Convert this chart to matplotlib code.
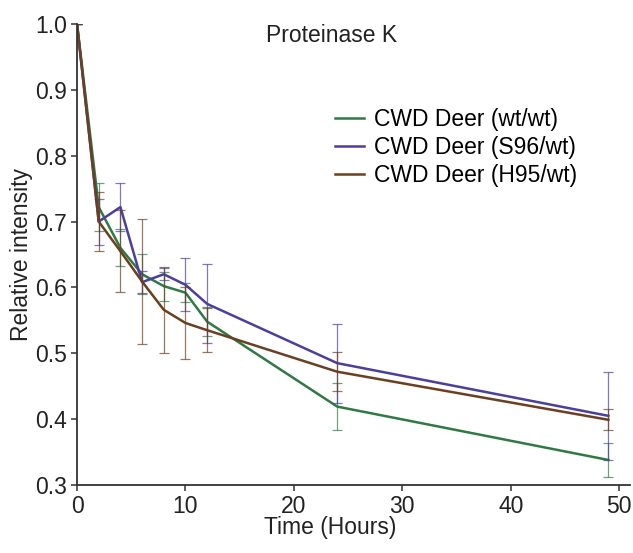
import matplotlib
matplotlib.use("Agg")
import matplotlib.pyplot as plt

plt.rcParams['font.family'] = ['Liberation Sans', 'DejaVu Sans']

# digestion time points (hours) and relative intensities
hours = [0, 2, 4, 6, 8, 10, 12, 24, 49]
labels = ["CWD Deer (wt/wt)", "CWD Deer (S96/wt)", "CWD Deer (H95/wt)"]
wt_wt = [1.0, 0.722, 0.660, 0.620, 0.602, 0.592, 0.548, 0.419, 0.338]
s96_wt = [1.0, 0.700, 0.722, 0.608, 0.620, 0.604, 0.575, 0.485, 0.405]
h95_wt = [1.0, 0.700, 0.655, 0.609, 0.566, 0.546, 0.535, 0.472, 0.399]
wt_err = [0, 0.037, 0.028, 0.030, 0.022, 0.014, 0.022, 0.036, 0.026]
s96_err = [0, 0.035, 0.037, 0.017, 0.009, 0.040, 0.060, 0.060, 0.067]
h95_err = [0, 0.045, 0.062, 0.095, 0.065, 0.055, 0.033, 0.030, 0.016]

colors = ["#2f7a44", "#4b3f9e", "#6b3f1f"]
series = [wt_wt, s96_wt, h95_wt]
errors = [wt_err, s96_err, h95_err]

fig = plt.figure(figsize=(6.33, 5.53), dpi=100)
ax = fig.add_axes([0.1217, 0.123, 0.8736, 0.8336])

for vals, err, col, lab in zip(series, errors, colors, labels):
    ax.errorbar(hours, vals, yerr=err, fmt="none", ecolor=col, elinewidth=0.9,
                capsize=3.5, capthick=0.9, alpha=0.7)
    ax.plot(hours, vals, color=col, lw=1.8, label=lab)

ax.set_xlim(0, 51)
ax.set_ylim(0.3, 1.0)
ax.set_xticks([0, 10, 20, 30, 40, 50])
ax.set_yticks([0.3, 0.4, 0.5, 0.6, 0.7, 0.8, 0.9, 1.0])
ax.set_yticklabels(["0.3", "0.4", "0.5", "0.6", "0.7", "0.8", "0.9", "1.0"])

for s in ["top", "right"]:
    ax.spines[s].set_visible(False)
for s in ["left", "bottom"]:
    ax.spines[s].set_linewidth(1.3)
    ax.spines[s].set_color("#333333")
ax.tick_params(length=4, width=1.1, color="#333333", labelsize=16.5,
               labelcolor="#222222", pad=3)

ax.set_xlabel("Time (Hours)", fontsize=16.5, color="#222222")
ax.xaxis.set_label_coords(0.457, -0.068)
ax.set_ylabel("Relative intensity", fontsize=16.5, color="#222222")
ax.yaxis.set_label_coords(-0.08, 0.5)

ax.text(0.46, 0.976, "Proteinase K", transform=ax.transAxes, fontsize=16.5,
        color="#222222", ha="center", va="center")

ax.legend(loc="upper left", bbox_to_anchor=(0.467, 0.818), frameon=False,
          fontsize=16.5, handlelength=1.25, handletextpad=0.45,
          labelspacing=0.21, borderpad=0, borderaxespad=0)

fig.savefig("out.png", dpi=100)
